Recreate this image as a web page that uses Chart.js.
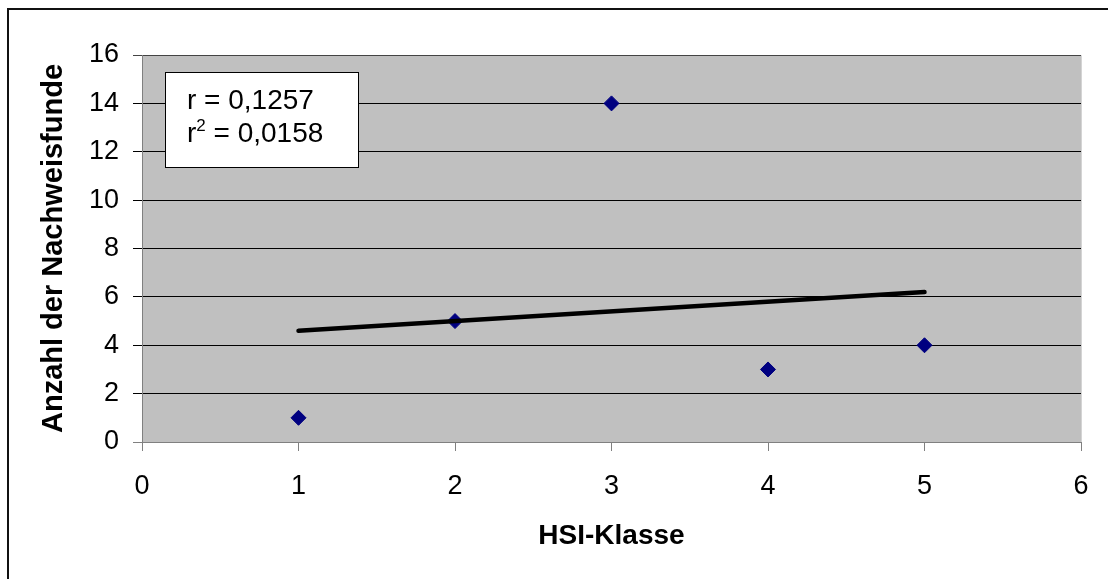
<!DOCTYPE html>
<html>
<head>
<meta charset="utf-8">
<script src="https://cdn.jsdelivr.net/npm/chart.js@4.4.1/dist/chart.umd.min.js"></script>
<style>
  html, body { margin: 0; padding: 0; background: #fff; overflow: hidden; }
  #wrap { position: relative; width: 1108px; height: 579px; }
  #frame { position: absolute; left: 7px; top: 8px; width: 3000px; height: 3000px;
           border-top: 2px solid #111; border-left: 2px solid #111; box-sizing: border-box; }
  canvas { position: absolute; left: 0; top: 0; }
</style>
</head>
<body>
<div id="wrap">
  <div id="frame"></div>
  <canvas id="c" width="1108" height="579"></canvas>
</div>
<script>
// ---- data ----
const hsiClass = [1, 2, 3, 4, 5];
const detections = [1, 5, 14, 3, 4];
const trendX = [1, 5];
const trendY = [4.6, 6.2];
const xTicks = [0, 1, 2, 3, 4, 5, 6];
const yTicks = [0, 2, 4, 6, 8, 10, 12, 14, 16];
const statLines = ['r = 0,1257', 'r2 = 0,0158'];
const xTitle = 'HSI-Klasse';
const yTitle = 'Anzahl der Nachweisfunde';

const FONT = '"Liberation Sans", Arial, Helvetica, sans-serif';

const plotBg = {
  id: 'plotBg',
  beforeDraw(chart) {
    const { ctx, chartArea: a } = chart;
    ctx.save();
    ctx.fillStyle = '#C0C0C0';
    ctx.fillRect(a.left, a.top, a.right - a.left, a.bottom - a.top);
    ctx.strokeStyle = '#d4d4d4';
    ctx.lineWidth = 1;
    ctx.beginPath();
    ctx.moveTo(a.left, a.top + 0.5);
    ctx.lineTo(a.right + 0.5, a.top + 0.5);
    ctx.lineTo(a.right + 0.5, a.bottom);
    ctx.stroke();
    ctx.restore();
  }
};

const statBox = {
  id: 'statBox',
  afterDraw(chart) {
    const { ctx, chartArea: a } = chart;
    const x0 = a.left + 23.5, y0 = a.top + 17.5, w = 193, h = 95;
    ctx.save();
    ctx.fillStyle = '#fff';
    ctx.fillRect(x0, y0, w, h);
    ctx.strokeStyle = '#000';
    ctx.lineWidth = 1;
    ctx.strokeRect(x0, y0, w, h);
    ctx.fillStyle = '#000';
    ctx.textBaseline = 'alphabetic';
    ctx.textAlign = 'left';
    ctx.font = '28px ' + FONT;
    const tx = a.left + 45;
    ctx.fillText(statLines[0], tx, a.top + 54);
    // second line with superscript 2
    const base2 = a.top + 87;
    ctx.fillText('r', tx, base2);
    let wx = tx + ctx.measureText('r').width;
    ctx.font = '17px ' + FONT;
    ctx.fillText('2', wx, base2 - 11);
    wx += ctx.measureText('2').width;
    ctx.font = '28px ' + FONT;
    ctx.fillText(statLines[1].slice(2), wx, base2);
    ctx.restore();
  }
};

new Chart(document.getElementById('c'), {
  type: 'scatter',
  data: {
    datasets: [
      {
        type: 'line',
        label: 'Trend',
        data: trendX.map((x, i) => ({ x, y: trendY[i] })),
        borderColor: '#000',
        borderWidth: 4.5,
        borderCapStyle: 'round',
        pointRadius: 0,
        fill: false,
        order: 0
      },
      {
        label: 'Nachweisfunde',
        data: hsiClass.map((x, i) => ({ x, y: detections[i] })),
        pointStyle: 'rectRot',
        pointRadius: 7.5,
        pointBackgroundColor: '#000080',
        pointBorderColor: '#000080',
        pointBorderWidth: 1,
        order: 1
      }
    ]
  },
  options: {
    responsive: false,
    devicePixelRatio: 1,
    animation: false,
    layout: { padding: { left: 0, top: 55, right: 27, bottom: 0 } },
    plugins: { legend: { display: false }, tooltip: { enabled: false } },
    scales: {
      x: {
        type: 'linear',
        min: 0, max: 6,
        afterFit(s) { s.height = 137; },
        afterBuildTicks(s) { s.ticks = xTicks.map(v => ({ value: v })); },
        grid: { drawOnChartArea: false, drawTicks: true, tickLength: 9, color: '#808080', lineWidth: 1 },
        border: { display: true, color: '#808080', width: 1 },
        ticks: { color: '#000', padding: 19, font: { family: FONT, size: 27 }, maxRotation: 0 },
        title: { display: true, text: xTitle, color: '#000', font: { family: FONT, size: 28, weight: 'bold' }, padding: { top: 0, bottom: 26 } }
      },
      y: {
        type: 'linear',
        min: 0, max: 16,
        afterFit(s) { s.width = 142; },
        afterBuildTicks(s) { s.ticks = yTicks.map(v => ({ value: v })); },
        grid: {
          drawTicks: true, tickLength: 9, lineWidth: 1,
          color: (c) => c.tick && c.tick.value === 0 ? '#808080' : (c.tick && c.tick.value === 16 ? '#444' : '#000')
        },
        border: { display: true, color: '#808080', width: 1 },
        ticks: { color: '#000', padding: 14, font: { family: FONT, size: 27 } },
        title: { display: true, text: yTitle, color: '#000', font: { family: FONT, size: 29, weight: 'bold' }, padding: { top: 37, bottom: 0 } }
      }
    }
  },
  plugins: [plotBg, statBox]
});
</script>
</body>
</html>
